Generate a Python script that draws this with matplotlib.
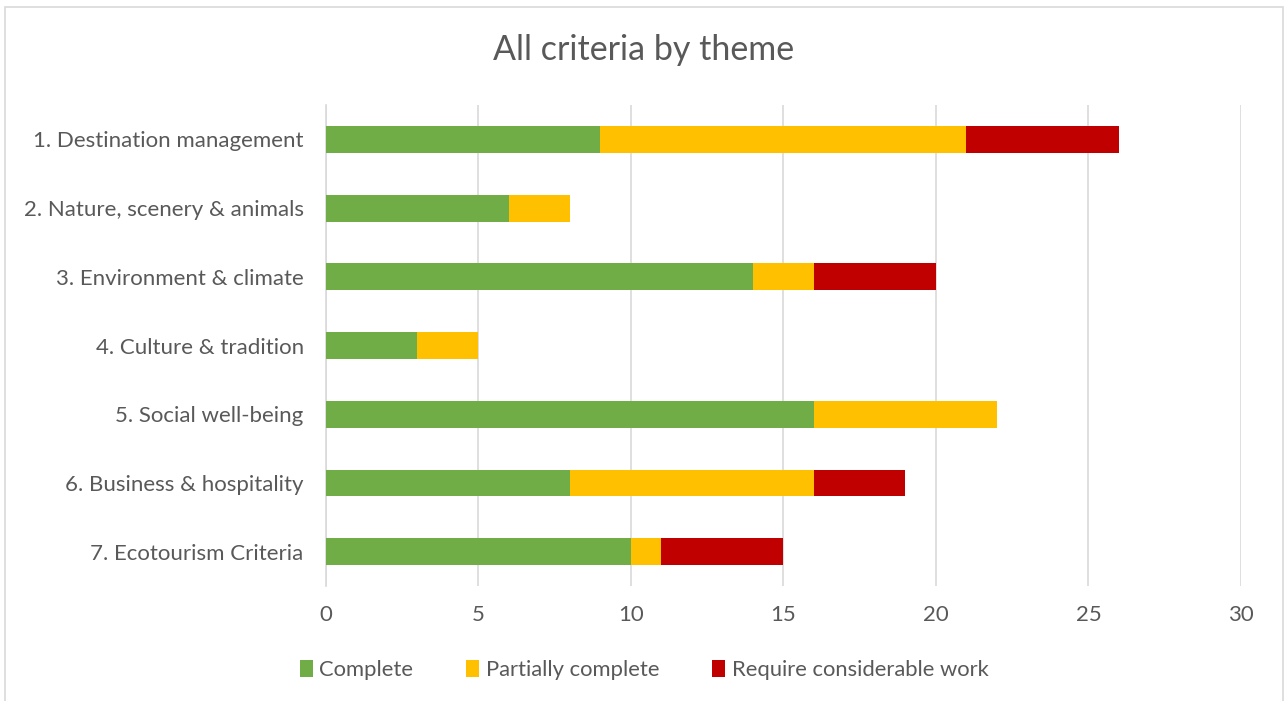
import matplotlib.pyplot as plt
from matplotlib.patches import Rectangle

themes = ["1. Destination management", "2. Nature, scenery & animals",
          "3. Environment & climate", "4. Culture & tradition",
          "5. Social well-being", "6. Business & hospitality",
          "7. Ecotourism Criteria"]
complete = [9, 6, 14, 3, 16, 8, 10]
partial = [12, 2, 2, 2, 6, 8, 1]
require = [5, 0, 4, 0, 0, 3, 4]

plt.rcParams['font.family'] = ['Lato', 'DejaVu Sans']

fig = plt.figure(figsize=(12.88, 7.01), dpi=100)
ax = fig.add_axes([0.253, 0.164, 0.7105, 0.686])

y = list(range(len(themes)))
left2 = [a + b for a, b in zip(complete, partial)]
ax.barh(y, complete, height=0.39, color='#70AD47', label='Complete', zorder=3)
ax.barh(y, partial, left=complete, height=0.39, color='#FFC000', label='Partially complete', zorder=3)
ax.barh(y, require, left=left2, height=0.39, color='#C00000', label='Require considerable work', zorder=3)

ax.set_xlim(0, 30)
ax.set_ylim(6.5, -0.5)
ax.set_yticks(y)
ax.set_yticklabels(themes)
ax.set_xticks(range(0, 31, 5))
ax.grid(axis='x', color='#D9D9D9', linewidth=1.2, zorder=0)
for s in ['top', 'right', 'bottom']:
    ax.spines[s].set_visible(False)
ax.spines['left'].set_color('#D9D9D9')
ax.spines['left'].set_linewidth(1.2)
ax.tick_params(length=0, labelsize=16, labelcolor='#595959')
ax.tick_params(axis='x', pad=14)
ax.tick_params(axis='y', pad=16)

fig.text(0.5, 0.928, 'All criteria by theme', ha='center', va='center', fontsize=24.5, color='#595959')
fig.legend(loc='center', bbox_to_anchor=(0.5, 0.044), ncol=3, frameon=False,
           fontsize=15.8, labelcolor='#595959', handlelength=0.6, handleheight=0.8,
           columnspacing=2.4, handletextpad=0.3)

fig.patches.append(Rectangle((5 / 1288, -0.01), 1278 / 1288, 1.0 - 7 / 701 + 0.01,
                             transform=fig.transFigure, fill=False,
                             edgecolor='#D9D9D9', linewidth=1.2))

fig.savefig('out.png', dpi=100)
